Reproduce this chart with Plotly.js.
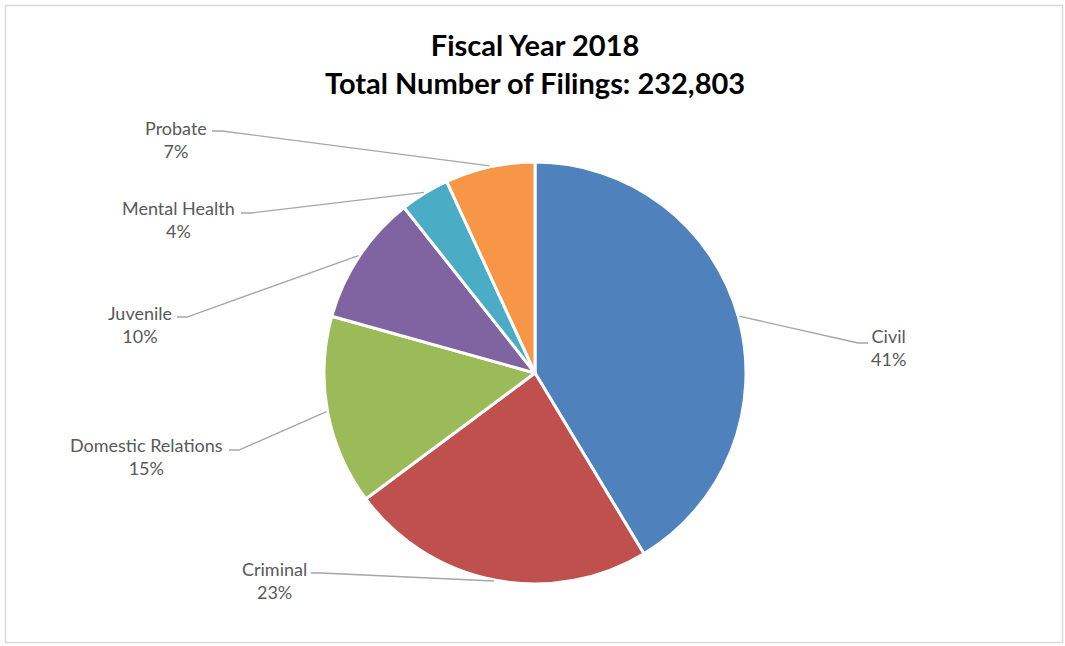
<!DOCTYPE html>
<html>
<head>
<meta charset="utf-8">
<script src="https://cdn.plot.ly/plotly-3.0.1.min.js"></script>
<style>html,body{margin:0;padding:0;background:#fff;}#chart{width:1065px;height:646px;}</style>
</head>
<body>
<div id="chart"></div>
<script>
// ---- data ----
const categories = ["Civil", "Criminal", "Domestic Relations", "Juvenile", "Mental Health", "Probate"];
const filings = [96300, 54600, 33800, 23300, 8800, 16003];
const colors = ["#4f81bd", "#c0504d", "#9bbb59", "#8064a2", "#4bacc6", "#f79646"];
const titleLines = ["Fiscal Year 2018", "Total Number of Filings: 232,803"];

// ---- layout config (pixels) ----
const W = 1065, H = 646;
const pie = {cx: 535, cy: 373, r: 211};
// label block centres and leader-line anchor (start, elbow) in pixels
const labelPos = [
  {x: 888, y: 347, start: [868, 343], elbow: [858, 343]},
  {x: 274, y: 580, start: [311, 573], elbow: [321, 573]},
  {x: 146, y: 456, start: [229, 450], elbow: [239, 450]},
  {x: 140, y: 324, start: [177, 317], elbow: [187, 317]},
  {x: 178, y: 220, start: [241, 213], elbow: [251, 213]},
  {x: 176, y: 139, start: [212, 131], elbow: [222, 131]}
];

const px = x => x / W;
const py = y => 1 - y / H;

const total = filings.reduce((a, b) => a + b, 0);
const annotations = [];
const shapes = [];
let cum = 0;
filings.forEach((v, i) => {
  const mid = (cum + v / 2) / total;
  cum += v;
  const th = 2 * Math.PI * mid;
  const ex = pie.cx + (pie.r + 1) * Math.sin(th);
  const ey = pie.cy - (pie.r + 1) * Math.cos(th);
  const lp = labelPos[i];
  const pct = Math.round(100 * v / total) + "%";
  annotations.push({
    xref: "paper", yref: "paper", x: px(lp.x), y: py(lp.y),
    xanchor: "center", yanchor: "middle", align: "center", showarrow: false,
    text: categories[i] + "<br>" + pct,
    font: {family: "Lato, 'Open Sans', sans-serif", size: 18, color: "#595959"}
  });
  shapes.push({
    type: "path", xref: "paper", yref: "paper",
    path: `M ${px(lp.start[0])} ${py(lp.start[1])} L ${px(lp.elbow[0])} ${py(lp.elbow[1])} L ${px(ex)} ${py(ey)}`,
    line: {color: "#a6a6a6", width: 1.3}
  });
});

// chart title (as a centred annotation)
annotations.push({
  xref: "paper", yref: "paper", x: px(535), y: py(63),
  xanchor: "center", yanchor: "middle", align: "center", showarrow: false,
  text: "<b>" + titleLines.join("<br>") + "</b>",
  font: {family: "Lato, 'Open Sans', sans-serif", size: 29, color: "#000000"}
});

// chart border
shapes.push({
  type: "rect", xref: "paper", yref: "paper",
  x0: px(5.5), x1: px(1062.5), y0: py(642.5), y1: py(5.5),
  line: {color: "#d9d9d9", width: 1.5}
});

const trace = {
  type: "pie",
  labels: categories,
  values: filings,
  sort: false,
  direction: "clockwise",
  rotation: 0,
  textinfo: "none",
  hoverinfo: "label+value+percent",
  marker: {colors: colors, line: {color: "#ffffff", width: 3}},
  domain: {x: [px(pie.cx - pie.r), px(pie.cx + pie.r)], y: [py(pie.cy + pie.r), py(pie.cy - pie.r)]},
  showlegend: false
};

const layout = {
  width: W, height: H,
  margin: {l: 0, r: 0, t: 0, b: 0},
  paper_bgcolor: "#ffffff",
  showlegend: false,
  annotations: annotations,
  shapes: shapes
};

Plotly.newPlot("chart", [trace], layout, {displayModeBar: false, staticPlot: true});
</script>
</body>
</html>
